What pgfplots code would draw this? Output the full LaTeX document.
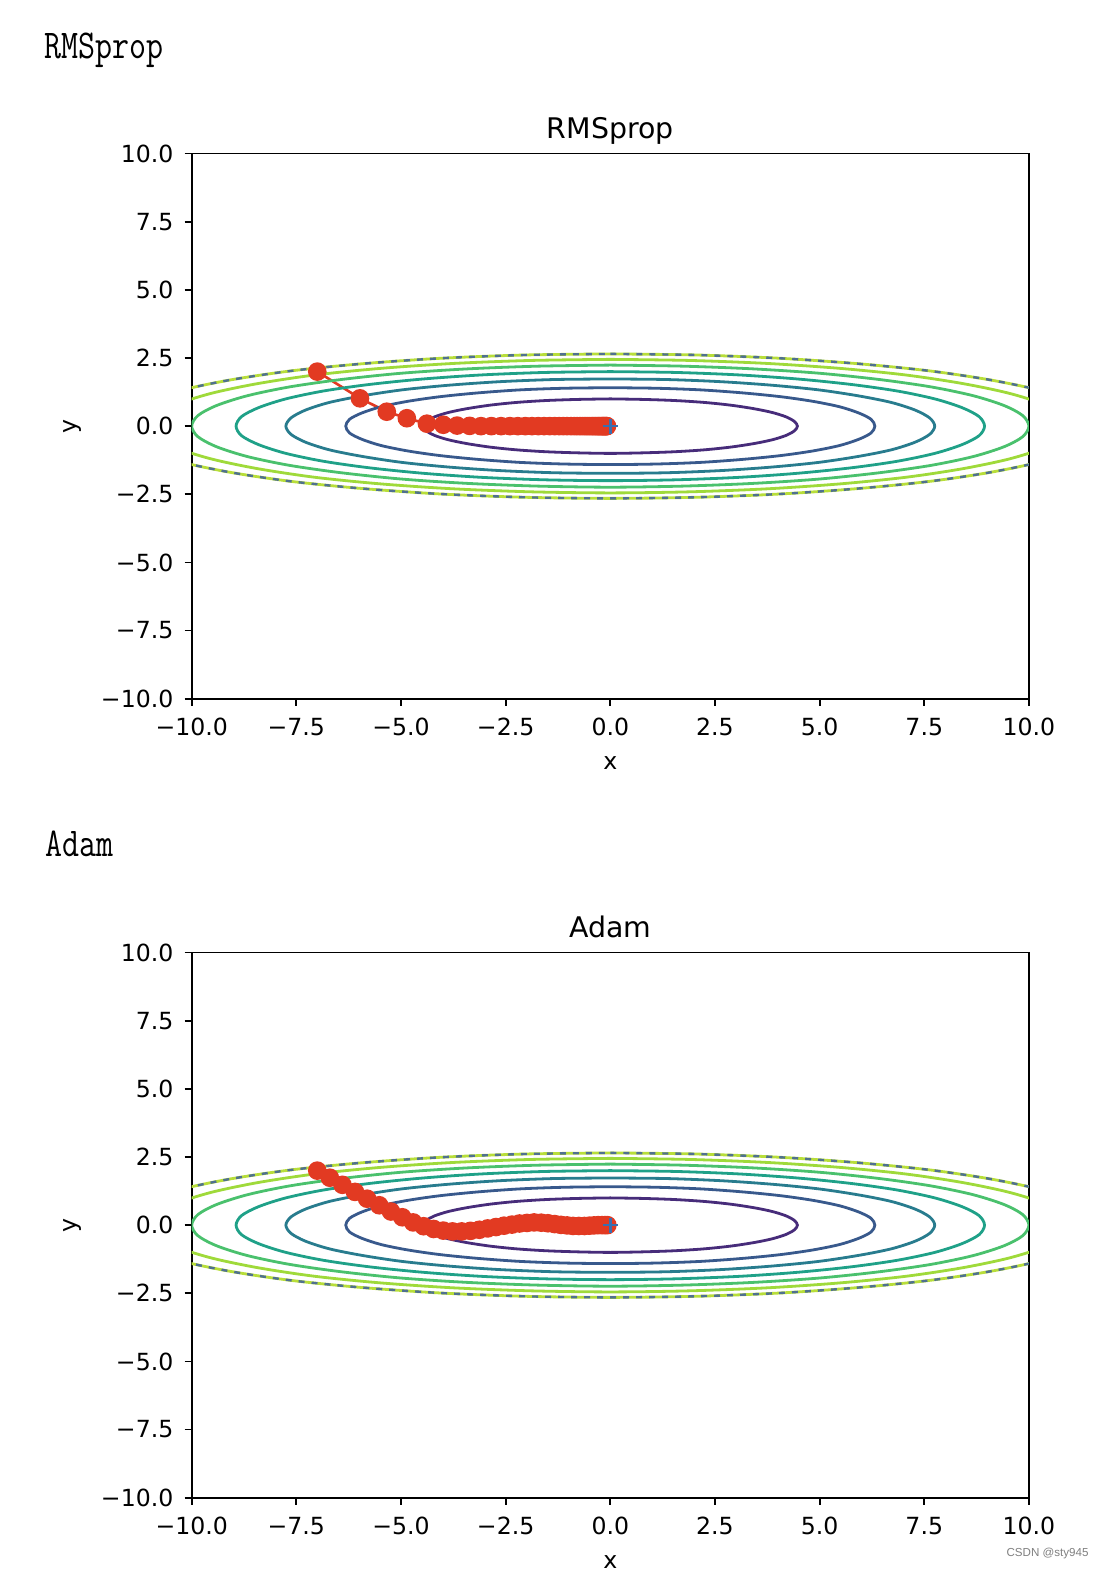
\documentclass[border=0pt]{standalone}
\usepackage{pgfplots}
\pgfplotsset{compat=1.18}
\usepackage{pgfplotstable}
\usepackage{graphicx}
\usepackage{fontspec}
\newfontfamily\dejavu{DejaVu Sans}
\newfontfamily\libsans{Liberation Sans}
\newcommand{\hdr}{\ttfamily\fontsize{16.5}{17}\selectfont}
\definecolor{vA}{HTML}{472C7A}
\definecolor{vB}{HTML}{38598C}
\definecolor{vC}{HTML}{287C8E}
\definecolor{vD}{HTML}{1FA188}
\definecolor{vE}{HTML}{4AC16D}
\definecolor{vF}{HTML}{9FDA3A}
\definecolor{vG}{HTML}{B8DE3A}
\definecolor{vDash}{HTML}{4F7090}
\definecolor{pathred}{RGB}{226,58,34}
\definecolor{plusblue}{HTML}{3A6FB0}

% contour lines of f(x,y) = x^2/20 + y^2 at levels 1..7
\pgfplotstableread[row sep=\\]{x y\\
0 1.00\\ 0.78 0.98\\ 1.53 0.94\\ 2.24 0.87\\ 2.87 0.77\\ 3.43 0.64\\ 3.87 0.50\\ 4.20 0.34\\ 4.40 0.17\\ 4.47 0\\
4.40 -0.17\\ 4.20 -0.34\\ 3.87 -0.50\\ 3.43 -0.64\\ 2.87 -0.77\\ 2.24 -0.87\\ 1.53 -0.94\\ 0.78 -0.98\\ 0 -1.00\\
-0.78 -0.98\\ -1.53 -0.94\\ -2.24 -0.87\\ -2.87 -0.77\\ -3.43 -0.64\\ -3.87 -0.50\\ -4.20 -0.34\\ -4.40 -0.17\\ -4.47 0\\
-4.40 0.17\\ -4.20 0.34\\ -3.87 0.50\\ -3.43 0.64\\ -2.87 0.77\\ -2.24 0.87\\ -1.53 0.94\\ -0.78 0.98\\ 0 1.00\\
}\lvA
\pgfplotstableread[row sep=\\]{x y\\
0 1.41\\ 1.10 1.39\\ 2.16 1.33\\ 3.16 1.22\\ 4.07 1.08\\ 4.84 0.91\\ 5.48 0.71\\ 5.94 0.48\\ 6.23 0.25\\ 6.32 0\\
6.23 -0.25\\ 5.94 -0.48\\ 5.48 -0.71\\ 4.84 -0.91\\ 4.07 -1.08\\ 3.16 -1.22\\ 2.16 -1.33\\ 1.10 -1.39\\ 0 -1.41\\
-1.10 -1.39\\ -2.16 -1.33\\ -3.16 -1.22\\ -4.07 -1.08\\ -4.84 -0.91\\ -5.48 -0.71\\ -5.94 -0.48\\ -6.23 -0.25\\ -6.32 0\\
-6.23 0.25\\ -5.94 0.48\\ -5.48 0.71\\ -4.84 0.91\\ -4.07 1.08\\ -3.16 1.22\\ -2.16 1.33\\ -1.10 1.39\\ 0 1.41\\
}\lvB
\pgfplotstableread[row sep=\\]{x y\\
0 1.73\\ 1.34 1.71\\ 2.65 1.63\\ 3.87 1.50\\ 4.98 1.33\\ 5.93 1.11\\ 6.71 0.87\\ 7.28 0.59\\ 7.63 0.30\\ 7.75 0\\
7.63 -0.30\\ 7.28 -0.59\\ 6.71 -0.87\\ 5.93 -1.11\\ 4.98 -1.33\\ 3.87 -1.50\\ 2.65 -1.63\\ 1.34 -1.71\\ 0 -1.73\\
-1.34 -1.71\\ -2.65 -1.63\\ -3.87 -1.50\\ -4.98 -1.33\\ -5.93 -1.11\\ -6.71 -0.87\\ -7.28 -0.59\\ -7.63 -0.30\\ -7.75 0\\
-7.63 0.30\\ -7.28 0.59\\ -6.71 0.87\\ -5.93 1.11\\ -4.98 1.33\\ -3.87 1.50\\ -2.65 1.63\\ -1.34 1.71\\ 0 1.73\\
}\lvC
\pgfplotstableread[row sep=\\]{x y\\
0 2.00\\ 1.55 1.97\\ 3.06 1.88\\ 4.47 1.73\\ 5.75 1.53\\ 6.85 1.29\\ 7.75 1.00\\ 8.40 0.68\\ 8.81 0.35\\ 8.94 0\\
8.81 -0.35\\ 8.40 -0.68\\ 7.75 -1.00\\ 6.85 -1.29\\ 5.75 -1.53\\ 4.47 -1.73\\ 3.06 -1.88\\ 1.55 -1.97\\ 0 -2.00\\
-1.55 -1.97\\ -3.06 -1.88\\ -4.47 -1.73\\ -5.75 -1.53\\ -6.85 -1.29\\ -7.75 -1.00\\ -8.40 -0.68\\ -8.81 -0.35\\ -8.94 0\\
-8.81 0.35\\ -8.40 0.68\\ -7.75 1.00\\ -6.85 1.29\\ -5.75 1.53\\ -4.47 1.73\\ -3.06 1.88\\ -1.55 1.97\\ 0 2.00\\
}\lvD
\pgfplotstableread[row sep=\\]{x y\\
0 2.24\\ 1.74 2.20\\ 3.42 2.10\\ 5.00 1.94\\ 6.43 1.71\\ 7.66 1.44\\ 8.66 1.12\\ 9.40 0.76\\ 9.85 0.39\\ 10 0\\
9.85 -0.39\\ 9.40 -0.76\\ 8.66 -1.12\\ 7.66 -1.44\\ 6.43 -1.71\\ 5.00 -1.94\\ 3.42 -2.10\\ 1.74 -2.20\\ 0 -2.24\\
-1.74 -2.20\\ -3.42 -2.10\\ -5.00 -1.94\\ -6.43 -1.71\\ -7.66 -1.44\\ -8.66 -1.12\\ -9.40 -0.76\\ -9.85 -0.39\\ -10 0\\
-9.85 0.39\\ -9.40 0.76\\ -8.66 1.12\\ -7.66 1.44\\ -6.43 1.71\\ -5.00 1.94\\ -3.42 2.10\\ -1.74 2.20\\ 0 2.24\\
}\lvE
\pgfplotstableread[row sep=\\]{x y\\
0 2.45\\ 1.90 2.41\\ 3.75 2.30\\ 5.48 2.12\\ 7.04 1.88\\ 8.39 1.57\\ 9.49 1.22\\ 10.29 0.84\\ 10.79 0.43\\ 10.95 0\\
10.79 -0.43\\ 10.29 -0.84\\ 9.49 -1.22\\ 8.39 -1.57\\ 7.04 -1.88\\ 5.48 -2.12\\ 3.75 -2.30\\ 1.90 -2.41\\ 0 -2.45\\
-1.90 -2.41\\ -3.75 -2.30\\ -5.48 -2.12\\ -7.04 -1.88\\ -8.39 -1.57\\ -9.49 -1.22\\ -10.29 -0.84\\ -10.79 -0.43\\ -10.95 0\\
-10.79 0.43\\ -10.29 0.84\\ -9.49 1.22\\ -8.39 1.57\\ -7.04 1.88\\ -5.48 2.12\\ -3.75 2.30\\ -1.90 2.41\\ 0 2.45\\
}\lvF
\pgfplotstableread[row sep=\\]{x y\\
0 2.65\\ 2.05 2.61\\ 4.05 2.49\\ 5.92 2.29\\ 7.61 2.03\\ 9.06 1.70\\ 10.25 1.32\\ 11.12 0.90\\ 11.65 0.46\\ 11.83 0\\
11.65 -0.46\\ 11.12 -0.90\\ 10.25 -1.32\\ 9.06 -1.70\\ 7.61 -2.03\\ 5.92 -2.29\\ 4.05 -2.49\\ 2.05 -2.61\\ 0 -2.65\\
-2.05 -2.61\\ -4.05 -2.49\\ -5.92 -2.29\\ -7.61 -2.03\\ -9.06 -1.70\\ -10.25 -1.32\\ -11.12 -0.90\\ -11.65 -0.46\\ -11.83 0\\
-11.65 0.46\\ -11.12 0.90\\ -10.25 1.32\\ -9.06 1.70\\ -7.61 2.03\\ -5.92 2.29\\ -4.05 2.49\\ -2.05 2.61\\ 0 2.65\\
}\lvG

% optimizer paths
\pgfplotstableread[row sep=\\]{x y\\
-7.00 2.00\\ -5.98 1.02\\ -5.34 0.53\\ -4.86 0.29\\ -4.38 0.09\\ -3.99 0.05\\ -3.66 0.02\\ -3.36 0.01\\ -3.09 0\\ -2.84 0\\
-2.61 0\\ -2.40 0\\ -2.21 0\\ -2.03 0\\ -1.87 0\\ -1.72 0\\ -1.58 0\\ -1.45 0\\ -1.33 0\\ -1.22 0\\
-1.12 0\\ -1.03 0\\ -0.94 0\\ -0.86 0\\ -0.79 0\\ -0.72 0\\ -0.66 0\\ -0.60 0\\ -0.55 0\\ -0.50 0\\
-0.45 0\\ -0.41 0\\ -0.37 0\\ -0.33 0\\ -0.30 0\\ -0.27 0\\ -0.24 0\\ -0.21 0\\ -0.19 0\\ -0.17 0\\
-0.15 0\\ -0.13 0\\ -0.11 0\\ -0.09 0\\ -0.08 0\\
}\rmspath
\pgfplotstableread[row sep=\\]{x y\\
-7.00 2.00\\ -6.70 1.74\\ -6.40 1.48\\ -6.10 1.22\\ -5.81 0.97\\ -5.52 0.73\\ -5.24 0.50\\ -4.97 0.29\\ -4.71 0.10\\ -4.46 -0.04\\
-4.22 -0.14\\ -3.99 -0.20\\ -3.77 -0.23\\ -3.55 -0.23\\ -3.34 -0.21\\ -3.13 -0.17\\ -2.93 -0.12\\ -2.73 -0.07\\ -2.54 -0.02\\ -2.35 0.02\\
-2.17 0.06\\ -1.99 0.08\\ -1.82 0.10\\ -1.65 0.09\\ -1.49 0.07\\ -1.33 0.04\\ -1.18 0.01\\ -1.03 -0.01\\ -0.89 -0.03\\ -0.75 -0.03\\
-0.62 -0.03\\ -0.50 -0.02\\ -0.39 -0.01\\ -0.29 0\\ -0.20 0\\ -0.13 0\\ -0.07 0\\
}\adampath

\pgfplotsset{
  ctr/.style={no markers, smooth, line width=1.4pt},
  redpath/.style={color=pathred, line width=1.3pt, mark=*, mark size=4pt, mark options={solid, fill=pathred, draw=pathred}},
  panel/.style={
    scale only axis, width=418.6pt, height=272.55pt,
    xmin=-10, xmax=10, ymin=-10, ymax=10,
    xtick={-10,-7.5,-5,-2.5,0,2.5,5,7.5,10},
    xticklabels={−10.0,−7.5,−5.0,−2.5,0.0,2.5,5.0,7.5,10.0},
    ytick={-10,-7.5,-5,-2.5,0,2.5,5,7.5,10},
    yticklabels={−10.0,−7.5,−5.0,−2.5,0.0,2.5,5.0,7.5,10.0},
    tick align=outside, tick pos=left,
    major tick length=3.5pt,
    tick style={black, line width=0.9pt},
    axis line style={line width=0.9pt},
    tick label style={font=\dejavu\fontsize{11.8}{12}\selectfont, inner sep=0pt},
    xticklabel style={anchor=base, yshift=-15pt},
    yticklabel style={anchor=east, xshift=-5.5pt},
    xlabel=x, ylabel=y,
    label style={font=\dejavu\fontsize{11.8}{12}\selectfont, inner sep=0pt},
    xlabel style={at={(axis description cs:0.5,-0.1299)}, anchor=base},
    ylabel style={at={(axis description cs:-0.1426,0.5)}, anchor=center, rotate=0},
    title style={font=\dejavu\fontsize{14.2}{15}\selectfont, at={(axis description cs:0.5,1)}, anchor=base, yshift=1.6pt, inner sep=0pt},
  }
}
\newcommand{\contours}{%
  \addplot[ctr, vA] table {\lvA};
  \addplot[ctr, vB] table {\lvB};
  \addplot[ctr, vC] table {\lvC};
  \addplot[ctr, vD] table {\lvD};
  \addplot[ctr, vE] table {\lvE};
  \addplot[ctr, vF] table {\lvF};
  \addplot[ctr, vG] table {\lvG};
  \addplot[no markers, smooth, line width=1.2pt, vDash, dash pattern=on 3pt off 3.5pt] table {\lvG};
}

\begin{document}
\begin{tikzpicture}
\useasboundingbox (0,0) rectangle (552pt,787pt);
\fill[white] (0,0) rectangle (552pt,787pt);
\clip (0,0) rectangle (552pt,787pt);

\node[anchor=base west, inner sep=0pt] at (22.1pt,757.9pt) {\scalebox{1}[1.24]{\hdr RMSprop}};
\node[anchor=base west, inner sep=0pt] at (22.5pt,358.65pt) {\scalebox{1}[1.24]{\hdr Adam}};

\begin{axis}[panel, at={(95.85pt,437.65pt)}, anchor=south west, title=RMSprop]
  \addplot[redpath] table {\rmspath};
  \contours
  \addplot[only marks, mark=+, mark size=3.8pt, color=plusblue, mark options={line width=1.3pt}] coordinates {(0,0)};
\end{axis}

\begin{axis}[panel, at={(95.85pt,38.15pt)}, anchor=south west, title=Adam]
  \addplot[redpath] table {\adampath};
  \contours
  \addplot[only marks, mark=+, mark size=3.8pt, color=plusblue, mark options={line width=1.3pt}] coordinates {(0,0)};
\end{axis}

\node[anchor=base east, inner sep=0pt, text=gray, font=\libsans\fontsize{5.8}{6}\selectfont] at (544.5pt,9pt) {CSDN @sty945};
\end{tikzpicture}
\end{document}
